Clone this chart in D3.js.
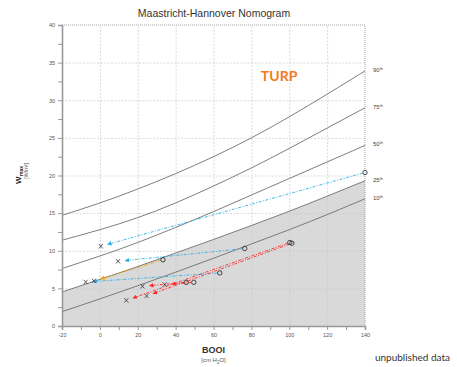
<!DOCTYPE html>
<html>
<head>
<meta charset="utf-8">
<script src="https://cdn.jsdelivr.net/npm/d3@7"></script>
<style>
  body { margin: 0; background: #fff; }
  svg { display: block; }
  .tick-label { font-family: 'Liberation Sans', Arial, sans-serif; font-size: 5.5px; fill: #555; }
</style>
</head>
<body>
<div id="chart"></div>
<script>
// percentile curves at every 20 cm H2O
const curveBooi = [-20, 0, 20, 40, 60, 80, 100, 120, 140];
const p90 = [14.7, 16.35, 18.2, 20.25, 22.5, 25.0, 27.8, 30.8, 33.9];
const p75 = [11.4, 12.8, 14.4, 16.35, 18.6, 21.0, 23.6, 26.3, 29.0];
const p50 = [7.63, 9.3, 11.1, 13.1, 15.2, 17.4, 19.6, 21.8, 24.0];
const p25 = [4.52, 6.2, 7.9, 9.7, 11.5, 13.35, 15.25, 17.25, 19.3];
const p10 = [1.9, 3.6, 5.35, 7.15, 9.0, 10.9, 12.8, 14.8, 16.9];
const percentileNames = ['90', '75', '50', '25', '10'];

// patients: pre-op (O) -> post-op (X)
const preBooi  = [140, 76.5, 63.3, 33.3, 45.6, 49.6, 100.3, 101.4];
const preW     = [20.4, 10.3, 7.05, 8.8, 5.8, 5.8, 11.1, 11.0];
const postBooi = [0.5, 9.6, -7.5, -3.2, 22.5, 34.2, 14.0, 24.7];
const postW    = [10.6, 8.6, 5.85, 6.0, 5.28, 5.5, 3.4, 4.0];
const pairGroup = ['blue', 'blue', 'blue', 'orange', 'red', 'red', 'red', 'red'];

const xTicks = [-20, 0, 20, 40, 60, 80, 100, 120, 140];
const yTicks = [0, 5, 10, 15, 20, 25, 30, 35, 40];

const groupColor = { blue: '#2fb0e6', orange: '#f5a300', red: '#ff2626' };

var fullWidth = 457, fullHeight = 367;
var margin = {top: 25, right: 92, bottom: 41, left: 62};
var width = fullWidth - margin.left - margin.right;
var height = fullHeight - margin.top - margin.bottom;

var xScale = d3.scaleLinear().domain([-20, 140]).range([0, width]);
var yScale = d3.scaleLinear().domain([0, 40]).range([height, 0]);

var root = d3.select('#chart').append('svg')
  .attr('width', fullWidth)
  .attr('height', fullHeight);

var defs = root.append('defs');
Object.keys(groupColor).forEach((g) => {
  defs.append('marker')
    .attr('id', `arrow-${g}`)
    .attr('viewBox', '0 0 10 10')
    .attr('refX', 10).attr('refY', 5)
    .attr('markerWidth', 4.5).attr('markerHeight', 4.5)
    .attr('markerUnits', 'userSpaceOnUse')
    .attr('orient', 'auto')
    .append('path')
    .attr('d', 'M0,0L10,5L0,10Z')
    .attr('fill', groupColor[g]);
});

root.append('text')
  .attr('x', 214).attr('y', 17)
  .attr('text-anchor', 'middle')
  .style('font-family', "'Liberation Sans', Arial, sans-serif")
  .style('font-size', '10.5px')
  .style('fill', '#333')
  .text('Maastricht-Hannover Nomogram');

var svg = root.append('g')
  .attr('transform', `translate(${margin.left},${margin.top})`);

let curveLine = (vals) => d3.line()
  .x((d, i) => xScale(curveBooi[i]))
  .y((d) => yScale(d))
  .curve(d3.curveNatural)(vals);

// grey area under the 25th percentile
let area = d3.area()
  .x((d, i) => xScale(curveBooi[i]))
  .y0(yScale(0))
  .y1((d) => yScale(d))
  .curve(d3.curveNatural);
svg.append('path')
  .attr('d', area(p25))
  .attr('fill', '#d9d9d9');

// grid
svg.append('g')
  .attr('class', 'grid x')
  .attr('transform', `translate(0,${height})`)
  .call(d3.axisBottom(xScale).tickValues(xTicks.slice(1, -1)).tickSize(-height).tickFormat(''))
  .call(g => g.select('.domain').remove())
  .selectAll('line').attr('stroke', '#c8c8c8').attr('stroke-dasharray', '2,1.5').attr('stroke-width', 0.7);
svg.append('g')
  .attr('class', 'grid y')
  .call(d3.axisLeft(yScale).tickValues(yTicks.slice(1, -1)).tickSize(-width).tickFormat(''))
  .call(g => g.select('.domain').remove())
  .selectAll('line').attr('stroke', '#c8c8c8').attr('stroke-dasharray', '2,1.5').attr('stroke-width', 0.7);

// dotted frame top / right
svg.append('path')
  .attr('d', `M0,0H${width}V${height}`)
  .attr('fill', 'none')
  .attr('stroke', '#999')
  .attr('stroke-width', 0.9)
  .attr('stroke-dasharray', '1,1');

// percentile curves
[p90, p75, p50, p25, p10].forEach((vals, i) => {
  svg.append('path')
    .attr('class', 'percentile')
    .attr('d', curveLine(vals))
    .attr('fill', 'none')
    .attr('stroke', '#6f6f6f')
    .attr('stroke-width', 0.9);

  let lbl = svg.append('text')
    .attr('x', width + 8)
    .attr('y', yScale(vals[vals.length - 1]) + 1)
    .style('font-family', "'Liberation Sans', Arial, sans-serif")
    .style('font-size', '6px')
    .style('fill', '#444')
    .text(percentileNames[i]);
  lbl.append('tspan')
    .attr('dy', -2)
    .style('font-size', '4px')
    .text('th');
});

// axes
var xAxis = d3.axisBottom(xScale)
  .tickValues(d3.range(-20, 141, 10))
  .tickSize(4)
  .tickFormat((d) => xTicks.indexOf(d) >= 0 ? d : '');
var yAxis = d3.axisLeft(yScale)
  .tickValues(d3.range(0, 40.1, 2.5))
  .tickSize(4)
  .tickFormat((d) => yTicks.indexOf(d) >= 0 ? d : '');

svg.append('g')
  .attr('class', 'axis x')
  .attr('transform', `translate(0,${height})`)
  .call(xAxis)
  .call(g => g.select('.domain').attr('stroke', '#999').attr('stroke-width', 1.6))
  .call(g => g.selectAll('.tick line').attr('stroke', '#999'))
  .call(g => g.selectAll('.tick text').attr('class', 'tick-label').attr('y', 7));

svg.append('g')
  .attr('class', 'axis y')
  .call(yAxis)
  .call(g => g.select('.domain').attr('stroke', '#999').attr('stroke-width', 1.6))
  .call(g => g.selectAll('.tick line').attr('stroke', '#999'))
  .call(g => g.selectAll('.tick text').attr('class', 'tick-label').attr('x', -7));

// patient pairs
var pairs = preBooi.map((b, i) => ({
  x0: xScale(b), y0: yScale(preW[i]),
  x1: xScale(postBooi[i]), y1: yScale(postW[i]),
  group: pairGroup[i]
}));

var dataArea = svg.append('g').attr('class', 'data-area');

pairs.forEach((p) => {
  let dx = p.x0 - p.x1, dy = p.y0 - p.y1;
  let len = Math.sqrt(dx * dx + dy * dy);
  let tipX = p.x1 + dx / len * 6.5;
  let tipY = p.y1 + dy / len * 6.5;
  dataArea.append('line')
    .attr('x1', p.x0 - dx / len * 2.5).attr('y1', p.y0 - dy / len * 2.5)
    .attr('x2', tipX).attr('y2', tipY)
    .attr('stroke', groupColor[p.group])
    .attr('stroke-width', 0.9)
    .attr('stroke-dasharray', '3,1.5,1,1.5')
    .attr('marker-end', `url(#arrow-${p.group})`);
});

dataArea.selectAll('circle.pre')
  .data(pairs)
  .enter().append('circle')
  .attr('class', 'pre')
  .attr('cx', (d) => d.x0)
  .attr('cy', (d) => d.y0)
  .attr('r', 2.2)
  .attr('fill', 'none')
  .attr('stroke', '#333')
  .attr('stroke-width', 0.9);

dataArea.selectAll('path.post')
  .data(pairs)
  .enter().append('path')
  .attr('class', 'post')
  .attr('d', (d) => `M${d.x1 - 2},${d.y1 - 2.2}L${d.x1 + 2},${d.y1 + 2.2}M${d.x1 + 2},${d.y1 - 2.2}L${d.x1 - 2},${d.y1 + 2.2}`)
  .attr('stroke', '#333')
  .attr('stroke-width', 0.8);

// TURP label
svg.append('text')
  .attr('x', xScale(85)).attr('y', yScale(32.6))
  .style('font-family', "Lato, 'Open Sans', sans-serif")
  .style('font-weight', 'bold')
  .style('font-size', '14px')
  .style('fill', '#f47a20')
  .text('TURP');

// axis titles
var yTitle = root.append('text')
  .attr('transform', 'translate(21,184) rotate(-90)')
  .style('font-family', "'Liberation Sans', Arial, sans-serif")
  .style('fill', '#222');
yTitle.append('tspan')
  .style('font-weight', 'bold')
  .style('font-size', '8px')
  .text('W');
yTitle.append('tspan')
  .attr('dx', 0.5)
  .attr('dy', 1.5)
  .style('font-weight', 'bold')
  .style('font-size', '5px')
  .text('max');
root.append('text')
  .attr('transform', 'translate(28,179) rotate(-90)')
  .style('font-family', "'Liberation Sans', Arial, sans-serif")
  .style('font-size', '5.5px')
  .style('fill', '#555')
  .text('[W/m²]');

root.append('text')
  .attr('x', xScale(60) + margin.left).attr('y', 353)
  .attr('text-anchor', 'middle')
  .style('font-family', "'Liberation Sans', Arial, sans-serif")
  .style('font-weight', 'bold')
  .style('font-size', '9px')
  .style('fill', '#333')
  .text('BOOI');
var xSub = root.append('text')
  .attr('x', xScale(60) + margin.left).attr('y', 362)
  .attr('text-anchor', 'middle')
  .style('font-family', "'Liberation Sans', Arial, sans-serif")
  .style('font-size', '6px')
  .style('fill', '#555');
xSub.append('tspan').text('[cm H');
xSub.append('tspan').attr('dy', 1.5).style('font-size', '4.5px').text('2');
xSub.append('tspan').attr('dy', -1.5).text('O]');

root.append('text')
  .attr('x', 450).attr('y', 361)
  .attr('text-anchor', 'end')
  .style('font-family', "Lato, 'Open Sans', sans-serif")
  .style('font-size', '10px')
  .style('fill', '#333')
  .text('unpublished data');
</script>
</body>
</html>
